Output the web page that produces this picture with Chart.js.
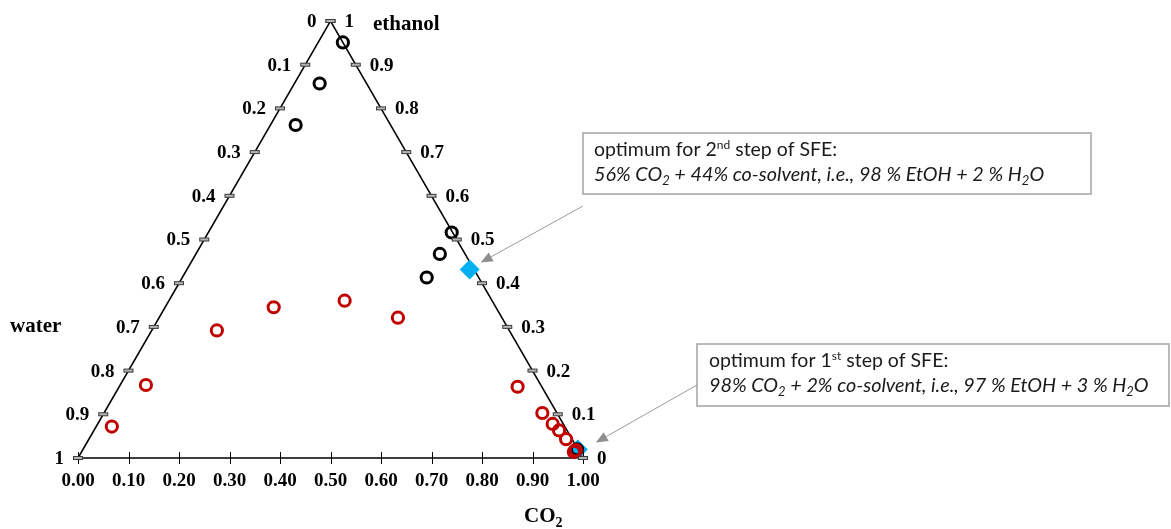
<!DOCTYPE html>
<html>
<head>
<meta charset="utf-8">
<script src="https://cdn.jsdelivr.net/npm/chart.js@4.4.1/dist/chart.umd.min.js"></script>
<style>
  html, body { margin: 0; padding: 0; background: #ffffff; }
  #wrap { width: 1171px; height: 529px; }
</style>
</head>
<body>
<div id="wrap"><canvas id="chart" width="1171" height="529"></canvas></div>
<script>
// Phase points of the CO2 / ethanol / water system (mass fractions).
// Each point is given by its CO2 and ethanol fraction; water is the remainder.
const twoPhaseCO2  = [0.031, 0.051, 0.129, 0.215, 0.348, 0.473, 0.789, 0.868, 0.901, 0.921, 0.945, 0.977, 0.975];
const twoPhaseEtOH = [0.072, 0.167, 0.292, 0.345, 0.360, 0.321, 0.163, 0.103, 0.078, 0.063, 0.043, 0.018, 0.014];

const onePhaseCO2  = [0.049, 0.050, 0.050, 0.482, 0.483, 0.484, 0.978];
const onePhaseEtOH = [0.951, 0.857, 0.762, 0.516, 0.467, 0.413, 0.020];

// Optimum solvent compositions: 2nd step (56 % CO2, 44 % of 98 % EtOH) and 1st step (98 % CO2, 2 % of 97 % EtOH)
const optimumCO2  = [0.56, 0.98];
const optimumEtOH = [0.4312, 0.0194];

// Triangle corners: water, CO2, ethanol, back to water
const cornerCO2  = [0, 1, 0, 0];
const cornerEtOH = [0, 0, 1, 0];

// Tick labels along the three sides
const co2TickLabels     = ['0.00','0.10','0.20','0.30','0.40','0.50','0.60','0.70','0.80','0.90','1.00'];
const waterTickLabels   = ['0','0.1','0.2','0.3','0.4','0.5','0.6','0.7','0.8','0.9','1'];
const ethanolTickLabels = ['0','0.1','0.2','0.3','0.4','0.5','0.6','0.7','0.8','0.9','1'];

const H = Math.sqrt(3) / 2;
// ternary (CO2, ethanol) -> cartesian position inside the equilateral triangle
function toXY(co2, eth) { return { x: co2 + eth / 2, y: eth * H }; }
function points(co2s, eths) { return co2s.map((c, i) => toXY(c, eths[i])); }

const SERIF = '"Liberation Serif", "Times New Roman", serif';
const SANS = 'Lato, "Open Sans", sans-serif';

function richText(ctx, x, y, segs, size, italic) {
  for (const s of segs) {
    const sz = (s.sup || s.sub) ? Math.round(size * 0.64) : size;
    ctx.font = (italic ? 'italic ' : '') + sz + 'px ' + SANS;
    const dy = s.sup ? -size * 0.36 : (s.sub ? size * 0.22 : 0);
    ctx.fillText(s.t, x, y + dy);
    x += ctx.measureText(s.t).width;
  }
}

function arrow(ctx, x1, y1, x2, y2) {
  const ang = Math.atan2(y2 - y1, x2 - x1);
  const len = 12, half = 5;
  const bx = x2 - Math.cos(ang) * len, by = y2 - Math.sin(ang) * len;
  ctx.strokeStyle = '#9a9a9a';
  ctx.lineWidth = 1;
  ctx.beginPath(); ctx.moveTo(x1, y1); ctx.lineTo(bx, by); ctx.stroke();
  ctx.fillStyle = '#8f8f8f';
  ctx.beginPath();
  ctx.moveTo(x2, y2);
  ctx.lineTo(bx + Math.sin(ang) * half, by - Math.cos(ang) * half);
  ctx.lineTo(bx - Math.sin(ang) * half, by + Math.cos(ang) * half);
  ctx.closePath(); ctx.fill();
}

function sideTick(ctx, p) {
  ctx.fillStyle = '#b5b5b5'; ctx.strokeStyle = '#3a3a3a'; ctx.lineWidth = 1;
  ctx.fillRect(p.x - 4.5, p.y - 1.5, 9, 3);
  ctx.strokeRect(p.x - 4.5, p.y - 1.5, 9, 3);
}

// Side ticks, side labels, axis names and the two call-out boxes
const ternaryDecor = {
  id: 'ternaryDecor',
  afterDatasetsDraw(chart) {
    const ctx = chart.ctx;
    const sx = chart.scales.x, sy = chart.scales.y;
    const px = p => ({ x: sx.getPixelForValue(p.x), y: sy.getPixelForValue(p.y) });
    ctx.save();

    // bottom (CO2) ticks cross the base line
    const baseY = sy.getPixelForValue(0);
    ctx.strokeStyle = '#000'; ctx.lineWidth = 1;
    sx.ticks.forEach(t => {
      const x = Math.round(sx.getPixelForValue(t.value)) + 0.5;
      ctx.beginPath(); ctx.moveTo(x, baseY - 6); ctx.lineTo(x, baseY + 6); ctx.stroke();
    });

    ctx.textBaseline = 'middle';
    // left side: water fraction
    waterTickLabels.forEach((lab, i) => {
      const p = px(toXY(0, 1 - i / 10));
      sideTick(ctx, p);
      ctx.font = 'bold 19px ' + SERIF;
      ctx.fillStyle = '#000'; ctx.textAlign = 'right';
      ctx.fillText(lab, p.x - 14, p.y + 1);
    });
    // right side: ethanol fraction
    ethanolTickLabels.forEach((lab, i) => {
      const e = i / 10;
      const p = px(toXY(1 - e, e));
      sideTick(ctx, p);
      ctx.font = 'bold 19px ' + SERIF;
      ctx.fillStyle = '#000'; ctx.textAlign = 'left';
      ctx.fillText(lab, p.x + 14, p.y + 1);
    });

    // component names
    ctx.fillStyle = '#000';
    ctx.font = 'bold 21px ' + SERIF;
    ctx.textAlign = 'left';
    ctx.fillText('ethanol', 373, 25);
    ctx.fillText('water', 10, 327);
    ctx.fillText('CO', 524, 517);
    const coW = ctx.measureText('CO').width;
    ctx.font = 'bold 14px ' + SERIF;
    ctx.fillText('2', 524 + coW, 523);

    // call-out boxes
    const boxes = [
      { x: 583, y: 133, w: 508, h: 61, tx: 594, b1: 156, b2: 181,
        l1: [{ t: 'optimum for 2' }, { t: 'nd', sup: true }, { t: ' step of SFE:' }],
        l2: [{ t: '56% CO' }, { t: '2', sub: true }, { t: ' + 44% co-solvent, i.e., 98 % EtOH + 2 % H' }, { t: '2', sub: true }, { t: 'O' }],
        from: [583, 206], pt: 0, off: [11, -7] },
      { x: 697, y: 344, w: 472, h: 62, tx: 709, b1: 367, b2: 392,
        l1: [{ t: 'optimum for 1' }, { t: 'st', sup: true }, { t: ' step of SFE:' }],
        l2: [{ t: '98% CO' }, { t: '2', sub: true }, { t: ' + 2% co-solvent, i.e., 97 % EtOH + 3 % H' }, { t: '2', sub: true }, { t: 'O' }],
        from: [697, 385], pt: 1, off: [18, -7] }
    ];
    boxes.forEach(b => {
      ctx.fillStyle = '#fff';
      ctx.fillRect(b.x, b.y, b.w, b.h);
      ctx.strokeStyle = '#a3a3a3'; ctx.lineWidth = 1.5;
      ctx.strokeRect(b.x, b.y, b.w, b.h);
      ctx.fillStyle = '#1a1a1a';
      ctx.textAlign = 'left'; ctx.textBaseline = 'alphabetic';
      richText(ctx, b.tx, b.b1, b.l1, 19.5, false);
      richText(ctx, b.tx, b.b2, b.l2, 19.8, true);
      const target = px(toXY(optimumCO2[b.pt], optimumEtOH[b.pt]));
      arrow(ctx, b.from[0], b.from[1], target.x + b.off[0], target.y + b.off[1]);
    });
    ctx.restore();
  }
};

new Chart(document.getElementById('chart'), {
  type: 'scatter',
  data: {
    datasets: [
      { label: 'two phases', data: points(twoPhaseCO2, twoPhaseEtOH),
        pointStyle: 'circle', pointRadius: 5.6, borderWidth: 3,
        borderColor: '#c00000', backgroundColor: 'rgba(0,0,0,0)', clip: false },
      { label: 'one phase', data: points(onePhaseCO2, onePhaseEtOH),
        pointStyle: 'circle', pointRadius: 5.6, borderWidth: 3,
        borderColor: '#000000', backgroundColor: 'rgba(0,0,0,0)', clip: false },
      { label: 'optimum', data: points(optimumCO2, optimumEtOH),
        pointStyle: 'rectRot', pointRadius: 10, borderWidth: 0,
        borderColor: '#00b0f0', backgroundColor: '#00b0f0', clip: false },
      { label: 'frame', data: points(cornerCO2, cornerEtOH), showLine: true,
        pointRadius: 0, borderColor: '#000', borderWidth: 1.5, tension: 0, clip: false }
    ]
  },
  options: {
    responsive: false,
    animation: false,
    devicePixelRatio: 1,
    layout: { padding: { left: 78, right: 588, top: 21, bottom: 0 } },
    plugins: { legend: { display: false }, tooltip: { enabled: false } },
    scales: {
      x: {
        type: 'linear', min: 0, max: 1, position: 'bottom',
        afterBuildTicks: s => { s.ticks = co2TickLabels.map((_, i) => ({ value: i / 10 })); },
        afterFit: s => { s.height = 71; },
        ticks: {
          callback: (v, i) => co2TickLabels[i],
          font: { family: SERIF, size: 19, weight: 'bold' }, color: '#000',
          padding: 12, maxRotation: 0, autoSkip: false
        },
        grid: { drawOnChartArea: false, drawTicks: false },
        border: { display: false }
      },
      y: { type: 'linear', min: 0, max: H, display: false }
    }
  },
  plugins: [ternaryDecor]
});
</script>
</body>
</html>
